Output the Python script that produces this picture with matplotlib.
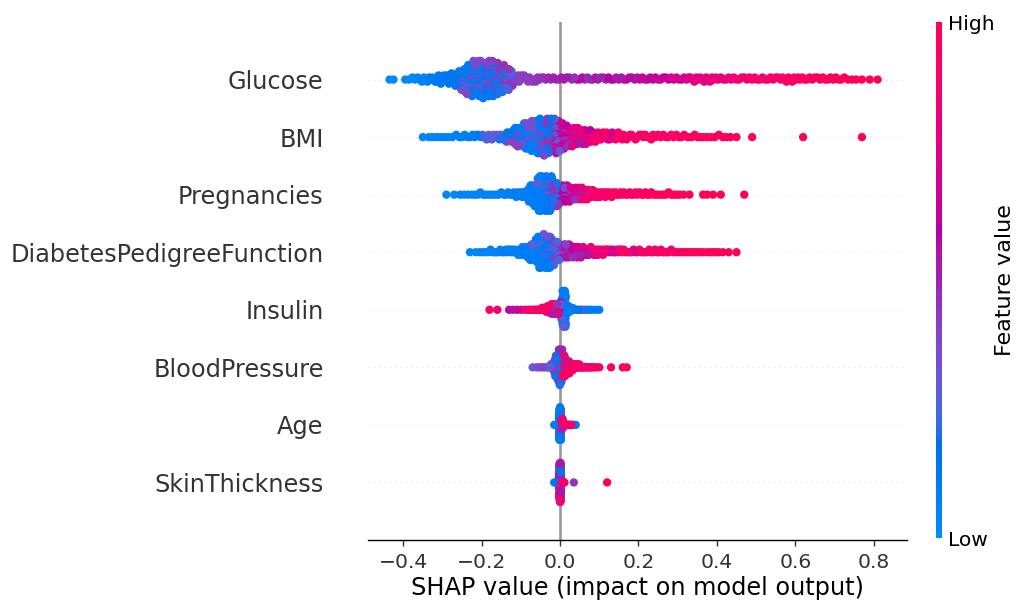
import numpy as np
import matplotlib
matplotlib.use("Agg")
import matplotlib.pyplot as plt
from matplotlib.colors import LinearSegmentedColormap, Normalize
from matplotlib.cm import ScalarMappable

# features from bottom row to top row
features = ["SkinThickness", "Age", "BloodPressure", "Insulin",
            "DiabetesPedigreeFunction", "Pregnancies", "BMI", "Glucose"]

# binned SHAP values per feature:
#   *_x  bin centre, *_n  samples in bin, *_c  feature value (0 = low, 1 = high)
glucose_x = [-0.43, -0.39, -0.37, -0.35, -0.33, -0.31, -0.29, -0.27,
             -0.25, -0.25, -0.23, -0.23, -0.21, -0.21, -0.19, -0.19,
             -0.17, -0.17, -0.15, -0.15, -0.13, -0.13, -0.11, -0.09,
             -0.07, -0.05, -0.03, -0.01, 0.01, 0.03, 0.05, 0.07, 0.09,
             0.11, 0.13, 0.15, 0.17, 0.19, 0.21, 0.23, 0.25, 0.27, 0.29,
             0.31, 0.33, 0.35, 0.37, 0.39, 0.41, 0.43, 0.45, 0.47, 0.49,
             0.51, 0.53, 0.55, 0.57, 0.59, 0.61, 0.63, 0.65, 0.67, 0.69,
             0.71, 0.73, 0.75, 0.77, 0.79, 0.81]
glucose_n = [2, 2, 3, 4, 5, 7, 8, 10,
             12, 6, 16, 10, 18, 12, 18, 12,
             16, 12, 13, 10, 8, 7, 7, 6,
             5, 4, 3, 3, 3, 3, 3, 3, 3,
             3, 3, 3, 3, 3, 3, 3, 3, 3, 3,
             3, 4, 4, 4, 4, 3, 3, 3, 3, 3,
             3, 3, 3, 4, 4, 4, 3, 3, 3, 3,
             3, 2, 2, 1, 1, 1]
glucose_c = [0.02, 0.03, 0.05, 0.06, 0.10, 0.12, 0.14, 0.15,
             0.12, 0.35, 0.12, 0.38, 0.12, 0.38, 0.14, 0.40,
             0.14, 0.42, 0.20, 0.45, 0.25, 0.45, 0.40, 0.42,
             0.45, 0.46, 0.48, 0.50, 0.52, 0.46, 0.58, 0.48, 0.55,
             0.50, 0.60, 0.52, 0.62, 0.55, 0.66, 0.58, 0.68, 0.62, 0.72,
             0.66, 0.72, 0.78, 0.75, 0.84, 0.78, 0.82, 0.86, 0.85, 0.88,
             0.88, 0.90, 0.90, 0.92, 0.92, 0.93, 0.93, 0.95, 0.95, 0.95,
             0.96, 0.97, 0.97, 0.98, 0.98, 1.00]

bmi_x = [-0.35, -0.33, -0.31, -0.29, -0.27, -0.25, -0.23, -0.21, -0.19,
         -0.17, -0.15, -0.13, -0.13, -0.11, -0.11, -0.09, -0.09, -0.07,
         -0.07, -0.05, -0.05, -0.03, -0.03, -0.01, -0.01, 0.01, 0.01,
         0.03, 0.03, 0.05, 0.05, 0.07, 0.07, 0.09, 0.11, 0.13, 0.15,
         0.17, 0.19, 0.21, 0.23, 0.25, 0.27, 0.29, 0.31, 0.33, 0.35,
         0.37, 0.39, 0.41, 0.43, 0.45, 0.49, 0.62, 0.77]
bmi_n = [1, 2, 2, 2, 2, 3, 3, 4, 4,
         5, 6, 6, 3, 9, 6, 13, 8, 15,
         9, 17, 12, 15, 15, 12, 15, 6, 15,
         4, 12, 3, 10, 3, 8, 9, 7, 7, 6,
         5, 4, 4, 4, 3, 3, 3, 3, 2, 3,
         2, 2, 2, 2, 1, 1, 1, 1]
bmi_c = [0.05, 0.05, 0.06, 0.06, 0.08, 0.08, 0.10, 0.12, 0.25,
         0.30, 0.20, 0.15, 0.40, 0.12, 0.40, 0.10, 0.35, 0.10,
         0.35, 0.12, 0.40, 0.15, 0.45, 0.30, 0.55, 0.45, 0.65,
         0.50, 0.75, 0.55, 0.80, 0.60, 0.85, 0.85, 0.88, 0.70, 0.90,
         0.88, 0.90, 0.92, 0.90, 0.92, 0.90, 0.93, 0.92, 0.94, 0.92,
         0.95, 0.93, 0.95, 0.95, 0.96, 0.96, 0.97, 0.98]

preg_x = [-0.29, -0.27, -0.25, -0.23, -0.21, -0.19, -0.17, -0.15, -0.13,
          -0.11, -0.09, -0.07, -0.05, -0.05, -0.03, -0.03, -0.01, -0.01,
          0.01, 0.01, 0.03, 0.03, 0.05, 0.05, 0.07, 0.09, 0.11, 0.13,
          0.15, 0.17, 0.19, 0.21, 0.23, 0.25, 0.27, 0.29, 0.31, 0.33,
          0.37, 0.39, 0.41, 0.47]
preg_n = [1, 1, 2, 2, 3, 3, 3, 3, 4,
          6, 9, 24, 36, 6, 32, 9, 14, 12,
          6, 15, 4, 13, 3, 12, 12, 9, 7, 6,
          5, 4, 4, 4, 4, 3, 3, 3, 2, 1,
          2, 1, 1, 1]
preg_c = [0.05, 0.05, 0.05, 0.05, 0.06, 0.06, 0.07, 0.07, 0.08,
          0.08, 0.10, 0.10, 0.10, 0.30, 0.12, 0.35, 0.20, 0.45,
          0.35, 0.60, 0.45, 0.70, 0.50, 0.80, 0.85, 0.88, 0.90, 0.90,
          0.92, 0.90, 0.92, 0.93, 0.95, 0.95, 0.96, 0.95, 0.96, 0.97,
          0.97, 0.98, 0.98, 0.99]

dpf_x = [-0.23, -0.21, -0.19, -0.17, -0.15, -0.13, -0.11, -0.09, -0.07,
         -0.07, -0.05, -0.05, -0.03, -0.03, -0.01, -0.01, 0.01, 0.01,
         0.03, 0.03, 0.05, 0.05, 0.07, 0.07, 0.09, 0.11, 0.13, 0.15,
         0.17, 0.19, 0.21, 0.23, 0.25, 0.27, 0.29, 0.31, 0.33, 0.35,
         0.37, 0.39, 0.41, 0.43, 0.45]
dpf_n = [1, 2, 3, 4, 4, 6, 7, 12, 18,
         3, 32, 6, 30, 9, 12, 12, 6, 12,
         4, 10, 3, 10, 3, 7, 9, 7, 6, 6,
         4, 4, 4, 4, 4, 4, 3, 3, 3, 3,
         2, 3, 2, 1, 1]
dpf_c = [0.05, 0.05, 0.06, 0.06, 0.07, 0.08, 0.08, 0.10, 0.10,
         0.30, 0.10, 0.30, 0.12, 0.35, 0.25, 0.45, 0.40, 0.55,
         0.45, 0.62, 0.50, 0.70, 0.55, 0.80, 0.80, 0.85, 0.70, 0.88,
         0.90, 0.75, 0.90, 0.92, 0.90, 0.93, 0.92, 0.94, 0.93, 0.95,
         0.95, 0.96, 0.95, 0.97, 0.97]

insulin_x = [-0.18, -0.16, -0.13, -0.12, -0.11, -0.10, -0.09, -0.08,
             -0.07, -0.06, -0.05, -0.04, -0.03, -0.02, -0.02, -0.01,
             -0.01, 0.00, 0.00, 0.01, 0.01, 0.02, 0.02, 0.03, 0.04,
             0.05, 0.06, 0.07, 0.08, 0.09, 0.10]
insulin_n = [1, 1, 1, 1, 1, 1, 1, 2,
             2, 3, 4, 7, 12, 16, 3, 16,
             6, 12, 12, 60, 10, 10, 4, 5, 3,
             2, 2, 2, 1, 1, 1]
insulin_c = [0.90, 0.85, 0.60, 0.55, 0.70, 0.55, 0.85, 0.90,
             0.75, 0.90, 0.92, 0.90, 0.92, 0.90, 0.50, 0.85,
             0.45, 0.60, 0.30, 0.10, 0.30, 0.10, 0.30, 0.10, 0.12,
             0.15, 0.30, 0.10, 0.12, 0.10, 0.10]

bp_x = [-0.07, -0.06, -0.05, -0.04, -0.03, -0.02, -0.02, -0.01, -0.01,
        0.00, 0.00, 0.00, 0.01, 0.01, 0.02, 0.03, 0.04, 0.05, 0.06,
        0.07, 0.08, 0.09, 0.10, 0.13, 0.16, 0.17]
bp_n = [1, 1, 2, 2, 3, 5, 3, 16, 14,
        20, 20, 10, 10, 20, 20, 12, 8, 6, 4,
        3, 3, 2, 1, 1, 1, 1]
bp_c = [0.30, 0.35, 0.40, 0.25, 0.30, 0.20, 0.45, 0.15, 0.45,
        0.20, 0.50, 0.80, 0.50, 0.90, 0.92, 0.90, 0.88, 0.90, 0.85,
        0.70, 0.90, 0.92, 0.90, 0.95, 0.95, 0.95]

age_x = [-0.015, -0.005, 0.000, 0.000, 0.005, 0.005, 0.010, 0.015,
         0.020, 0.025, 0.030, 0.035, 0.040]
age_n = [1, 4, 80, 20, 16, 14, 10, 5, 3, 2, 2, 1, 1]
age_c = [0.10, 0.10, 0.12, 0.40, 0.50, 0.85, 0.90, 0.92,
         0.90, 0.95, 0.92, 0.10, 0.10]

skin_x = [-0.015, -0.010, -0.005, 0.000, 0.000, 0.000, 0.005, 0.010,
          0.035, 0.120]
skin_n = [1, 1, 3, 40, 40, 40, 6, 2, 1, 1]
skin_c = [0.10, 0.10, 0.15, 0.15, 0.55, 0.90, 0.90, 0.85, 0.45, 0.95]

bin_width = [0.005, 0.005, 0.01, 0.01, 0.02, 0.02, 0.02, 0.02]
rows = [(skin_x, skin_n, skin_c), (age_x, age_n, age_c),
        (bp_x, bp_n, bp_c), (insulin_x, insulin_n, insulin_c),
        (dpf_x, dpf_n, dpf_c), (preg_x, preg_n, preg_c),
        (bmi_x, bmi_n, bmi_c), (glucose_x, glucose_n, glucose_c)]


def lch2rgb(l, c, h):
    # CIE LCh -> sRGB (D65)
    a, b = c * np.cos(h), c * np.sin(h)
    fy = (l + 16) / 116.0
    fx, fz = fy + a / 500.0, fy - b / 200.0

    def finv(t):
        return np.where(t > 6 / 29, t ** 3, 3 * (6 / 29) ** 2 * (t - 4 / 29))

    xyz = np.array([0.95047 * finv(fx), finv(fy), 1.08883 * finv(fz)])
    m = np.array([[3.2406, -1.5372, -0.4986],
                  [-0.9689, 1.8758, 0.0415],
                  [0.0557, -0.2040, 1.0570]])
    rgb = np.clip(m @ xyz, 0, None)
    rgb = np.where(rgb > 0.0031308, 1.055 * rgb ** (1 / 2.4) - 0.055, 12.92 * rgb)
    return np.clip(rgb, 0, 1)


# blue -> purple -> red map, interpolated in LCh
blue_lch = [54., 70., 4.6588]
red_lch = [54., 90., 0.35470565 + 2 * np.pi]
l_mid = 40.
nsteps = 100
l_vals = list(np.linspace(blue_lch[0], l_mid, nsteps // 2)) + list(np.linspace(l_mid, red_lch[0], nsteps // 2))
c_vals = np.linspace(blue_lch[1], red_lch[1], nsteps)
h_vals = np.linspace(blue_lch[2], red_lch[2], nsteps)
cols = [lch2rgb(l, c, h) for l, c, h in zip(l_vals, c_vals, h_vals)]
red_blue = LinearSegmentedColormap.from_list("red_blue", list(zip(np.linspace(0, 1, nsteps), cols)))


def expand(xc, n, c, w):
    xs, cs = [], []
    for x, k, v in zip(xc, n, c):
        off = ((np.arange(k) + 0.5) / k - 0.5) * w if k > 1 else np.zeros(1)
        xs.extend(x + off)
        cs.extend([v] * k)
    return np.array(xs), np.array(cs)


def swarm(xs, key, row_height=0.4, nbins=100):
    quant = np.round(nbins * (xs - xs.min()) / (xs.max() - xs.min() + 1e-8))
    inds = np.lexsort((key, quant))
    ys = np.zeros(len(xs))
    layer, last = 0, -1
    for i in inds:
        if quant[i] != last:
            layer = 0
        ys[i] = np.ceil(layer / 2) * ((layer % 2) * 2 - 1)
        layer += 1
        last = quant[i]
    ys *= 0.9 * (row_height / np.max(ys + 1))
    return ys


fig = plt.figure(figsize=(10.19, 6.02), dpi=100)
ax = fig.add_axes([368 / 1019, 62 / 602, 539 / 1019, 518 / 602])
ax.axvline(x=0, color="#999999", lw=1.9, zorder=-1)

for pos, ((xc, n, c), w) in enumerate(zip(rows, bin_width)):
    ax.axhline(y=pos, color="#cccccc", lw=0.64, dashes=(1, 5), zorder=-1)
    xs, cs = expand(xc, n, c, w)
    key = (np.arange(len(xs)) * 0.6180339887) % 1.0
    ys = swarm(xs, key)
    order = np.argsort(key)
    ax.scatter(xs[order], pos + ys[order], c=cs[order], cmap=red_blue, vmin=0, vmax=1,
               s=36, linewidth=0, alpha=1, zorder=3, rasterized=True)

axis_color = "#333333"
ax.xaxis.set_ticks_position("bottom")
ax.yaxis.set_ticks_position("none")
for side in ["right", "top", "left"]:
    ax.spines[side].set_visible(False)
ax.spines["bottom"].set_linewidth(1.0)
ax.tick_params(color=axis_color, labelcolor=axis_color)
ax.set_yticks(range(len(features)))
ax.set_yticklabels(features, fontsize=17.3)
ax.tick_params("y", length=27.5, width=0.64, pad=4.5, which="major")
ax.tick_params("x", labelsize=14.6, length=4.5, width=1.0, pad=4.5)
ax.set_xticks([-0.4, -0.2, 0.0, 0.2, 0.4, 0.6, 0.8])
ax.set_xlim(-0.49, 0.885)
ax.set_ylim(-1, len(features))
ax.set_xlabel("SHAP value (impact on model output)", fontsize=17.3, labelpad=3)

cax = fig.add_axes([936 / 1019, 64 / 602, 6 / 1019, 516 / 602])
cb = fig.colorbar(ScalarMappable(norm=Normalize(0, 1), cmap=red_blue), cax=cax, ticks=[0, 1])
cb.set_ticklabels(["Low", "High"])
cb.set_label("Feature value", size=16, labelpad=0)
cb.ax.tick_params(labelsize=14.6, length=0, pad=4.5)
cb.outline.set_visible(False)

fig.savefig("out.png", dpi=100)
